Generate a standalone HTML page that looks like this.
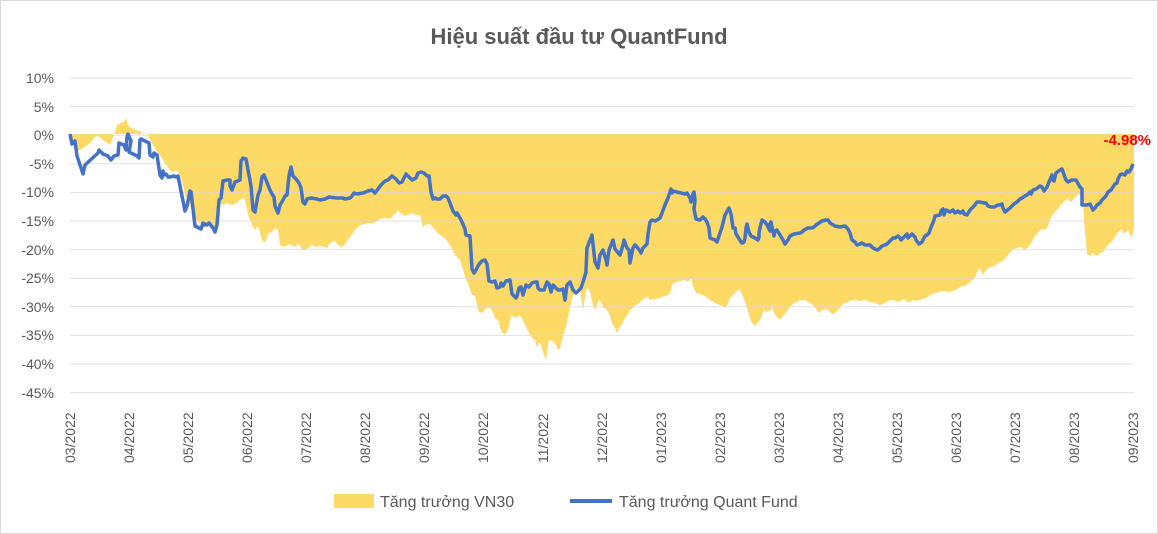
<!DOCTYPE html>
<html><head><meta charset="utf-8"><style>
html,body{margin:0;padding:0;background:#fff;}
svg{display:block;font-family:"Liberation Sans","DejaVu Sans",sans-serif;}
</style></head><body>
<svg width="1158" height="534" viewBox="0 0 1158 534" xmlns="http://www.w3.org/2000/svg">
<rect x="0.5" y="0.5" width="1157" height="533" fill="#fff" stroke="#d9d9d9"/>
<text x="579" y="44" text-anchor="middle" font-size="22" font-weight="bold" fill="#595959">Hiệu suất đầu tư QuantFund</text>
<polygon fill="#fdd966" points="70,134 73,140 78,151 85,147 90,143 95,137 98,136 103,140 110,145 112,140 115,132 117,125 120,123 124,122 126,118 128,125 131,128 135,130 140,131 143,135 147,133 150,140 155,148 160,156 165,163 170,170 172,172 176,170 178,172 182,180 185,195 190,205 195,218 201,225 205,226 207,225 210,222 215,228 218,210 220,203 223,205 227,203 232,205 235,204 240,200 243,198 245,200 248,215 252,225 255,230 258,226 260,232 262,240 265,243 268,234 272,232 275,228 278,230 280,245 283,247 286,246 290,244 295,247 298,244 300,245 302,250 305,250 310,247 312,244 315,247 320,246 325,247 327,248 330,243 335,241 338,245 342,247 345,244 350,237 355,230 360,225 365,224 370,223 372,224 375,222 380,219 385,218 390,219 392,217 395,214 398,210 400,213 405,216 410,214 413,213 415,215 420,215 422,222 423,228 425,225 430,224 435,230 440,235 443,237 445,238 450,245 455,255 460,260 463,270 466,280 468,283 470,290 472,295 475,296 478,310 480,313 483,312 486,308 490,308 493,312 495,318 499,322 500,328 502,332 505,335 508,330 510,320 512,315 515,318 518,316 520,316 522,318 525,325 528,331 530,335 532,338 535,340 537,348 539,342 541,345 544,355 546,360 548,346 549,340 551,340 553,342 556,345 558,350 560,348 562,340 565,330 567,322 570,308 573,295 577,288 580,290 583,310 586,290 588,288 590,292 593,305 595,310 597,305 599,300 601,302 603,307 607,310 609,313 612,323 615,328 617,333 620,327 622,324 625,318 628,314 630,310 633,308 636,305 640,302 645,298 648,297 650,300 660,298 668,295 670,293 672,285 675,282 680,281 685,280 688,282 691,278 693,286 696,293 700,294 705,296 710,300 715,303 720,305 725,307 727,306 730,298 735,293 739,289 742,294 745,302 748,311 750,318 752,323 755,326 757,324 760,320 764,310 767,312 771,310 772,306 774,313 777,317 780,320 783,316 787,311 790,307 793,304 797,302 800,300 805,300 810,303 815,307 818,312 820,313 822,310 825,309 828,310 832,314 835,313 838,310 842,305 845,303 850,301 855,300 860,301 865,300 870,302 875,303 880,305 885,303 890,300 893,300 898,302 902,300 905,299 907,302 910,302 913,300 916,301 920,300 925,298 928,297 930,295 935,293 938,292 940,292 944,291 947,292 950,292 953,291 956,290 960,287 963,286 967,285 970,282 975,278 977,272 980,268 983,275 986,270 990,267 995,266 998,263 1001,262 1004,260 1007,256 1010,253 1012,251 1014,249 1017,248 1020,247 1022,248 1024,250 1027,248 1030,245 1035,236 1038,233 1040,230 1042,229 1044,230 1046,229 1048,226 1050,219 1054,213 1057,210 1060,206 1063,203 1068,198 1070,202 1072,201 1075,197 1078,194 1080,195 1082,197 1083,201 1084,220 1087,254 1090,256 1093,253 1095,255 1097,256 1100,253 1103,252 1105,249 1108,245 1110,243 1113,240 1115,237 1117,233 1120,231 1122,229 1124,234 1126,232 1128,230 1130,235 1132,237 1133,232 1134,225 1134,134 70,134"/>
<g stroke="#d9d9d9" stroke-width="1" stroke-opacity="0.8">
<line x1="70" x2="1134" y1="78" y2="78"/><line x1="70" x2="1134" y1="106.6" y2="106.6"/>
<line x1="70" x2="1134" y1="135.2" y2="135.2"/><line x1="70" x2="1134" y1="163.8" y2="163.8"/>
<line x1="70" x2="1134" y1="192.4" y2="192.4"/><line x1="70" x2="1134" y1="221" y2="221"/>
<line x1="70" x2="1134" y1="249.6" y2="249.6"/><line x1="70" x2="1134" y1="278.2" y2="278.2"/>
<line x1="70" x2="1134" y1="306.8" y2="306.8"/><line x1="70" x2="1134" y1="335.4" y2="335.4"/>
<line x1="70" x2="1134" y1="364" y2="364"/><line x1="70" x2="1134" y1="392.6" y2="392.6"/>
</g>
<g font-size="14" fill="#595959" text-anchor="end">
<text x="54" y="83">10%</text><text x="54" y="112">5%</text><text x="54" y="140">0%</text>
<text x="54" y="169">-5%</text><text x="54" y="197">-10%</text><text x="54" y="226">-15%</text>
<text x="54" y="255">-20%</text><text x="54" y="283">-25%</text><text x="54" y="312">-30%</text>
<text x="54" y="340">-35%</text><text x="54" y="369">-40%</text><text x="54" y="398">-45%</text>
</g>
<polyline fill="none" stroke="#4472c4" stroke-width="3.5" stroke-linejoin="round" points="70,134 72,144 75,141 77,156 83,174 85,165 98,153 99,150 103,154 108,156 111,160 114,156 118,155 119,143 124,145 126,150 127,137 128,134 131,141 129,152 137,156 139,158 140,140 141,139 145,141 149,143 150,155 153,157 154,153 157,155 160,175 162,178 163,171 164,175 166,174 168,177 170,177 174,176 176,177 178,176 182,196 185,211 187,206 190,191 191,192 195,226 201,229 203,223 204,225 205,224 207,225 209,223 213,228 215,232 217,225 218,213 219,200 221,198 223,181 227,180 230,180 230,186 232,190 235,182 240,180 241,161 243,158 246,159 251,186 253,210 255,212 258,195 260,190 262,177 264,175 268,185 270,190 272,194 274,197 275,206 278,213 280,205 283,200 285,196 287,195 289,176 291,167 293,176 296,179 299,183 301,188 303,202 305,204 307,199 311,198 317,199 320,200 325,199 329,197 336,198 343,198 345,199 350,198 352,196 354,193 357,194 363,193 368,191 372,190 375,193 378,189 381,185 385,181 388,180 392,176 396,179 399,183 402,182 406,174 409,177 412,180 416,178 418,173 421,172 424,173 427,176 429,176 431,192 433,199 435,198 437,199 440,199 443,196 446,196 448,198 450,203 453,211 456,215 457,213 460,218 462,222 465,229 466,235 470,236 472,269 474,273 476,270 478,266 480,263 482,261 485,260 487,264 489,281 492,282 495,281 497,288 500,287 501,283 503,286 506,281 510,280 512,294 514,296 516,298 517,296 519,288 521,287 523,295 526,285 529,287 532,283 535,282 537,282 538,288 540,290 542,290 544,290 547,282 549,284 551,292 553,285 556,288 558,290 560,290 563,289 565,300 567,285 570,282 573,290 576,293 579,290 581,288 584,279 586,272 586,270 587,248 590,240 592,235 595,262 598,268 600,255 603,250 606,260 607,265 609,250 611,245 613,240 615,249 620,255 623,245 624,240 627,248 629,250 630,263 633,248 635,245 637,247 640,251 641,253 643,248 645,246 647,244 648,234 649,228 650,222 652,220 655,221 657,220 660,218 662,213 665,205 668,198 670,192 671,189 672,193 673,191 685,194 687,193 690,198 691,202 693,194 694,192 695,200 694,209 696,219 700,220 703,217 705,219 707,222 709,228 710,238 715,240 717,242 720,233 722,227 725,215 729,208 731,214 733,228 735,228 736,234 738,237 741,242 742,243 744,242 745,238 746,228 747,224 749,232 751,236 755,238 758,240 759,237 759,233 760,228 762,220 765,222 767,225 768,227 770,231 770,224 771,222 773,232 774,236 775,231 777,230 780,235 783,240 785,244 788,240 790,236 794,234 800,233 802,232 804,230 806,229 808,228 812,228 814,227 816,225 819,223 822,221 826,220 828,220 830,223 835,226 840,227 845,226 848,229 850,233 852,240 855,242 857,245 860,244 862,243 865,245 870,245 873,248 877,250 879,249 882,246 885,245 887,244 888,243 890,241 893,238 895,238 898,236 900,238 901,240 905,236 907,234 908,238 910,236 912,234 915,237 916,240 919,244 922,242 925,236 927,235 929,233 930,230 934,220 935,216 940,215 941,211 943,209 944,215 946,210 950,212 953,210 955,213 958,211 960,213 963,211 964,214 967,215 970,210 972,208 975,205 977,202 980,202 984,203 986,203 988,206 991,207 994,207 998,205 1000,205 1002,204 1003,208 1005,212 1010,208 1014,204 1017,202 1019,200 1020,199 1022,198 1025,196 1027,195 1030,192 1031,194 1033,190 1036,189 1040,186 1042,187 1044,191 1047,187 1049,182 1052,175 1053,180 1054,181 1056,173 1060,170 1062,169 1066,180 1068,182 1072,180 1076,180 1080,187 1082,189 1082,205 1087,205 1090,204 1093,210 1095,208 1097,205 1100,203 1102,200 1104,198 1106,196 1108,192 1111,190 1113,187 1115,184 1117,183 1118,179 1120,175 1122,174 1125,175 1127,171 1129,172 1131,169 1133,164"/>
<text x="1151" y="145" text-anchor="end" font-size="15" font-weight="bold" fill="#ff0000">-4.98%</text>
<g font-size="14" fill="#595959" text-anchor="start">
<text transform="translate(75,463) rotate(-90)">03/2022</text>
<text transform="translate(134,463) rotate(-90)">04/2022</text>
<text transform="translate(193,463) rotate(-90)">05/2022</text>
<text transform="translate(252,463) rotate(-90)">06/2022</text>
<text transform="translate(311,463) rotate(-90)">07/2022</text>
<text transform="translate(370,463) rotate(-90)">08/2022</text>
<text transform="translate(429,463) rotate(-90)">09/2022</text>
<text transform="translate(488,463) rotate(-90)">10/2022</text>
<text transform="translate(548,463) rotate(-90)">11/2022</text>
<text transform="translate(607,463) rotate(-90)">12/2022</text>
<text transform="translate(666,463) rotate(-90)">01/2023</text>
<text transform="translate(725,463) rotate(-90)">02/2023</text>
<text transform="translate(784,463) rotate(-90)">03/2023</text>
<text transform="translate(843,463) rotate(-90)">04/2023</text>
<text transform="translate(902,463) rotate(-90)">05/2023</text>
<text transform="translate(961,463) rotate(-90)">06/2023</text>
<text transform="translate(1020,463) rotate(-90)">07/2023</text>
<text transform="translate(1079,463) rotate(-90)">08/2023</text>
<text transform="translate(1138,463) rotate(-90)">09/2023</text>
</g>
<rect x="334" y="494" width="40" height="14" fill="#fdd966"/>
<text x="380" y="507" font-size="16" fill="#595959">Tăng trưởng VN30</text>
<line x1="570" x2="612" y1="501" y2="501" stroke="#4472c4" stroke-width="4"/>
<text x="619" y="507" font-size="16" fill="#595959">Tăng trưởng Quant Fund</text>
</svg>
</body></html>
